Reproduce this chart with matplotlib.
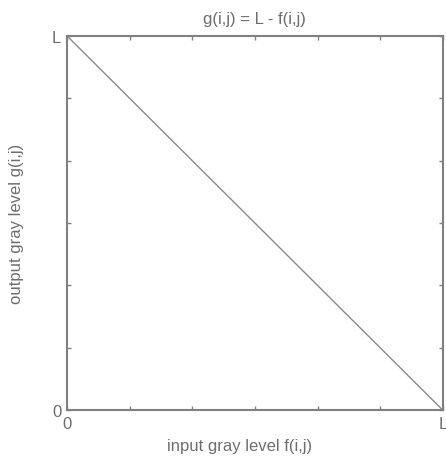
import numpy as np
import matplotlib
matplotlib.use('Agg')
import matplotlib.pyplot as plt

# negative transform: output = L - input
gray_in  = [0.0, 1.0]
gray_out = [1.0, 0.0]
tick_pos = np.linspace(0, 1, 7)
tick_lbl = ['0', '', '', '', '', '', 'L']

gray = '#6e6e6e'
plt.rcParams['font.family'] = ['Liberation Sans', 'DejaVu Sans']

fig, ax = plt.subplots(1, 1, figsize=(4.46, 4.60), dpi=100)
fig.subplots_adjust(left=0.150, right=0.993, top=0.920, bottom=0.106)
ax.plot(gray_in, gray_out, '-', color='#8a8a8a', lw=1.0)
ax.set_xlim(0, 1)
ax.set_ylim(0, 1)
ax.set_xticks(tick_pos)
ax.set_yticks(tick_pos)
ax.set_xticklabels(tick_lbl)
ax.set_yticklabels(tick_lbl)
ax.tick_params(direction='in', length=3, width=1, colors='#808080', labelcolor=gray,
               labelsize=12, top=True, right=True, pad=4)
for s in ax.spines.values():
    s.set_color('#808080')
    s.set_linewidth(1.5)
ax.set_title('g(i,j) = L - f(i,j)', fontsize=12, color=gray, pad=9)
ax.set_xlabel('input gray level f(i,j)', fontsize=12, color=gray, labelpad=8)
ax.xaxis.set_label_coords(0.46, -0.075)
ax.set_ylabel('output gray level g(i,j)', fontsize=12, color=gray, labelpad=20)
fig.savefig('out.png', dpi=100)
